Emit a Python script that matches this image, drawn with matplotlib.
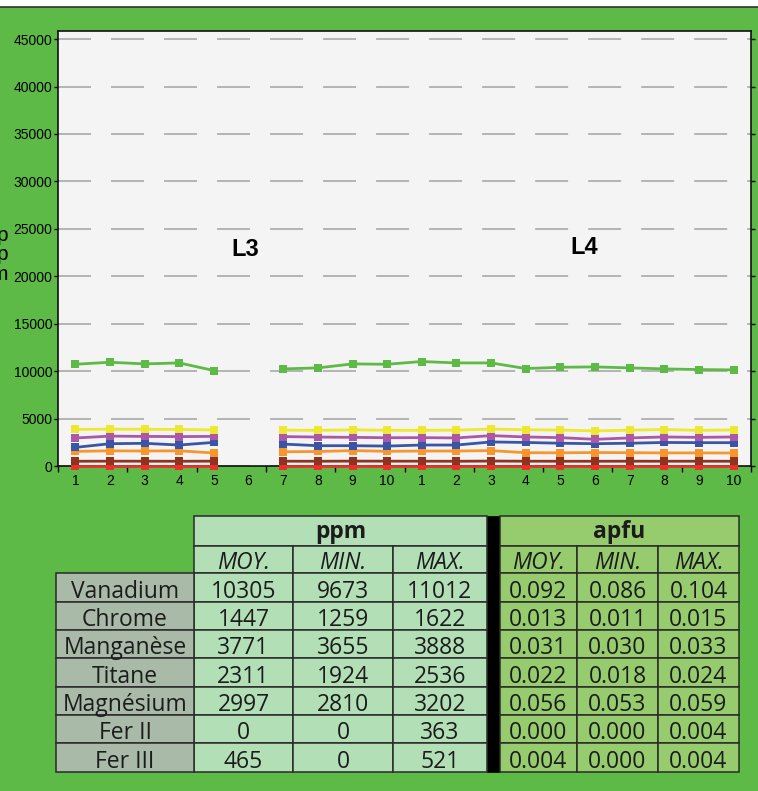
import numpy as np
import matplotlib
matplotlib.use("Agg")
import matplotlib.pyplot as plt
from matplotlib.patches import Rectangle

# x categories: two profiles (L3, L4) of 10 analyses each
xlabels = [str(i) for i in range(1, 11)] * 2
nan = np.nan

# ppm values (position 6 of L3 is missing)
vanadium = [10725, 10935, 10760, 10865, 10060, nan, 10235, 10340, 10760, 10725,
            11012, 10865, 10865, 10270, 10410, 10445, 10340, 10235, 10165, 10130]
manganese = [3860, 3880, 3870, 3850, 3800, nan, 3780, 3760, 3810, 3770,
             3760, 3780, 3888, 3820, 3790, 3700, 3780, 3840, 3760, 3800]
magnesium = [2950, 3150, 3120, 3100, 3120, nan, 3100, 3050, 3020, 2980,
             2990, 2960, 3202, 3060, 2990, 2810, 2960, 3060, 3020, 3060]
titane = [1960, 2350, 2390, 2210, 2490, nan, 2310, 2140, 2140, 2100,
          2210, 2210, 2536, 2480, 2400, 2350, 2400, 2480, 2460, 2460]
chrome = [1540, 1600, 1580, 1600, 1370, nan, 1500, 1530, 1622, 1550,
          1580, 1580, 1622, 1400, 1390, 1420, 1400, 1380, 1380, 1370]
fer3 = [500, 510, 505, 500, 510, nan, 505, 500, 515, 510,
        505, 500, 521, 505, 500, 500, 505, 500, 505, 500]
fer2 = [0, 0, 0, 0, 0, nan, 0, 0, 0, 0,
        0, 0, 0, 0, 0, 0, 0, 0, 0, 0]

# table data
elements = ["Vanadium", "Chrome", "Manganèse", "Titane", "Magnésium", "Fer II", "Fer III"]
ppm_moy = ["10305", "1447", "3771", "2311", "2997", "0", "465"]
ppm_min = ["9673", "1259", "3655", "1924", "2810", "0", "0"]
ppm_max = ["11012", "1622", "3888", "2536", "3202", "363", "521"]
apfu_moy = ["0.092", "0.013", "0.031", "0.022", "0.056", "0.000", "0.004"]
apfu_min = ["0.086", "0.011", "0.030", "0.018", "0.053", "0.000", "0.000"]
apfu_max = ["0.104", "0.015", "0.033", "0.024", "0.059", "0.004", "0.004"]
stat_names = ["MOY.", "MIN.", "MAX."]

BG = "#5dba46"
W, H = 758, 791

fig = plt.figure(figsize=(W / 100, H / 100), dpi=100, facecolor=BG)

# white strip + dark rule on top
fig.patches.append(Rectangle((0, 1 - 6.5 / H), 1, 6.5 / H, transform=fig.transFigure,
                             facecolor="white", edgecolor="none"))
fig.add_artist(plt.Line2D([0, 1], [1 - 7 / H, 1 - 7 / H], transform=fig.transFigure,
                          color="#333333", lw=1.2))

ax = fig.add_axes([58 / W, 1 - 466 / H, (751 - 58) / W, (466 - 31) / H])
ax.set_facecolor("#f4f4f4")

x = np.arange(1, 21)
series = [
    (fer2, "#e8312b"),
    (chrome, "#f7962d"),
    (fer3, "#8f3220"),
    (titane, "#3a55a6"),
    (magnesium, "#ab58a6"),
    (manganese, "#eee833"),
    (vanadium, "#5dba46"),
]
for i, (vals, col) in enumerate(series):
    ax.plot(x, vals, color=col, lw=2.0, marker="s", markersize=6.3,
            markeredgewidth=0, clip_on=False, zorder=3 + i)

ax.set_xlim(0.5, 20.5)
ax.set_ylim(0, 45850)
ax.set_yticks(np.arange(0, 45001, 5000))
ax.set_xticks(x)
ax.set_xticklabels(xlabels)
ax.set_xticks(np.arange(0.5, 21, 2), minor=True)
ax.tick_params(axis="x", which="major", length=0, pad=6, labelsize=10)
ax.tick_params(axis="x", which="minor", length=4, width=1, direction="out")
ax.tick_params(axis="y", which="major", length=3, width=1, direction="out",
               right=True, labelsize=10, pad=1)
for lab in ax.get_xticklabels() + ax.get_yticklabels():
    lab.set_fontfamily("Liberation Sans")
for s in ax.spines.values():
    s.set_linewidth(1.2)
    s.set_color("#111111")

ax.grid(axis="y", color="#a3a3a3", linewidth=1.1, linestyle=(0, (21.6, 13.1)))
ax.set_axisbelow(True)

ax.text(0.270, 0.497, "L3", transform=ax.transAxes, ha="center", va="center",
        fontsize=17, fontweight="bold", family="Liberation Sans")
ax.text(0.759, 0.503, "L4", transform=ax.transAxes, ha="center", va="center",
        fontsize=17, fontweight="bold", family="Liberation Sans")

# y label, partly cut by the left edge as in the original
fig.text(8 / W, 1 - 255 / H, "p\np\nm", ha="right", va="center", fontsize=15,
         family="Liberation Sans", linespacing=1.05)

# ---- table drawn in pixel coordinates ----
tab = fig.add_axes([0, 0, 1, 1])
tab.set_xlim(0, W)
tab.set_ylim(H, 0)
tab.axis("off")
tab.patch.set_alpha(0)

col_lab = (56, 194)
ppm_cols = [194, 293, 393, 487]
apfu_cols = [500, 577, 658, 739]
rows = [516, 546, 573, 602, 630, 658, 687, 715, 743, 772]
C_LAB = "#a9baa9"
C_PPM = "#b3dfb6"
C_APFU = "#96cb6e"
EDGE = "#2a2a2a"
FONT = "Open Sans"
FS = 16.5


def cell(x0, x1, y0, y1, fc):
    tab.add_patch(Rectangle((x0, y0), x1 - x0, y1 - y0, facecolor=fc,
                            edgecolor=EDGE, lw=1.1))


def put(x0, x1, y1, s, **kw):
    tab.text((x0 + x1) / 2, y1 - 4, s, ha="center", va="baseline",
             fontsize=FS, family=FONT, color="#1c1c1c", **kw)


# black separator
tab.add_patch(Rectangle((487, rows[0]), 13, rows[-1] - rows[0], facecolor="black",
                        edgecolor="black", lw=0.5))

for cols, fc, title, data in [
    (ppm_cols, C_PPM, "ppm", [ppm_moy, ppm_min, ppm_max]),
    (apfu_cols, C_APFU, "apfu", [apfu_moy, apfu_min, apfu_max]),
]:
    cell(cols[0], cols[-1], rows[0], rows[1], fc)
    tab.text((cols[0] + cols[-1]) / 2, (rows[0] + rows[1]) / 2 + 1, title,
             ha="center", va="center", fontsize=FS, fontweight="bold",
             family=FONT, color="#1c1c1c")
    for j in range(3):
        cell(cols[j], cols[j + 1], rows[1], rows[2], fc)
        put(cols[j], cols[j + 1], rows[2], stat_names[j], style="italic")
        for r in range(len(elements)):
            cell(cols[j], cols[j + 1], rows[r + 2], rows[r + 3], fc)
            put(cols[j], cols[j + 1], rows[r + 3], data[j][r])

for r, name in enumerate(elements):
    cell(col_lab[0], col_lab[1], rows[r + 2], rows[r + 3], C_LAB)
    put(col_lab[0], col_lab[1], rows[r + 3], name)

fig.savefig("out.png", dpi=100, facecolor=BG)
